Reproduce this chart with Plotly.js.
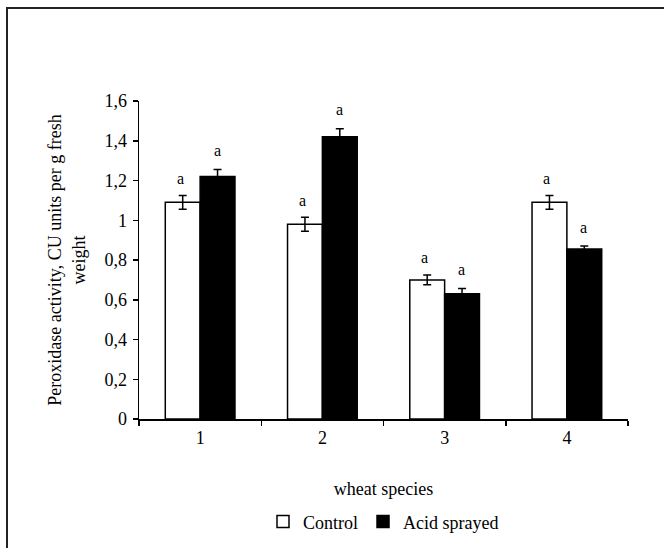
<!DOCTYPE html>
<html>
<head>
<meta charset="utf-8">
<script src="https://cdn.plot.ly/plotly-3.0.1.min.js"></script>
<style>
  html, body { margin: 0; padding: 0; background: #fff; }
  #frame { position: absolute; left: 6px; top: 7px; width: 700px; height: 600px; border: 2px solid #222; box-sizing: border-box; pointer-events: none; z-index: 2; }
  #chart { position: absolute; left: 0; top: 0; width: 664px; height: 548px; }
</style>
</head>
<body>
<div id="chart"></div>
<div id="frame"></div>
<script>
const categories = ['1', '2', '3', '4'];
const controlValues = [1.09, 0.98, 0.70, 1.09];
const controlErrors = [0.035, 0.035, 0.025, 0.035];
const acidValues = [1.22, 1.42, 0.63, 0.855];
const acidErrors = [0.035, 0.04, 0.027, 0.015];
const controlLabels = ['a', 'a', 'a', 'a'];
const acidLabels = ['a', 'a', 'a', 'a'];

const fontFamily = 'Liberation Serif';

const traces = [
  {
    type: 'bar', name: 'Control', x: categories, y: controlValues,
    marker: { color: '#ffffff', line: { color: '#000000', width: 1.5 } },
    error_y: { type: 'data', array: controlErrors, visible: true, color: '#000000', thickness: 1.5, width: 4 }
  },
  {
    type: 'bar', name: 'Acid sprayed', x: categories, y: acidValues,
    marker: { color: '#000000', line: { color: '#000000', width: 1.5 } },
    error_y: { type: 'data', array: acidErrors, visible: true, color: '#000000', thickness: 1.5, width: 4 }
  }
];

const annotations = [];
categories.forEach((c, i) => {
  annotations.push({ x: i, y: controlValues[i] + controlErrors[i], xref: 'x', yref: 'y', text: controlLabels[i],
    showarrow: false, xshift: -20, yshift: 17, font: { family: fontFamily, size: 16, color: '#000' } });
  annotations.push({ x: i, y: acidValues[i] + acidErrors[i], xref: 'x', yref: 'y', text: acidLabels[i],
    showarrow: false, xshift: 17, yshift: 19, font: { family: fontFamily, size: 16, color: '#000' } });
});

const layout = {
  width: 664, height: 548,
  margin: { l: 139, r: 36, t: 101, b: 129, pad: 0, autoexpand: false },
  paper_bgcolor: '#ffffff', plot_bgcolor: '#ffffff',
  separators: ', ',
  font: { family: fontFamily, size: 18, color: '#000' },
  barmode: 'group', bargap: 0.43, bargroupgap: 0,
  showlegend: true,
  legend: { orientation: 'h', x: 0.5, xanchor: 'center', y: -0.265, yanchor: 'top',
    font: { family: fontFamily, size: 18, color: '#000' }, itemwidth: 30, tracegroupgap: 0 },
  xaxis: {
    type: 'category', range: [-0.5, 3.5], showgrid: false, zeroline: false, automargin: false,
    showline: true, linecolor: '#000', linewidth: 1.5,
    ticks: 'outside', tickson: 'boundaries', ticklen: 5, tickcolor: '#000', tickwidth: 1.5,
    ticklabelstandoff: 2,
    tickfont: { family: fontFamily, size: 18, color: '#000' },
    title: { text: 'wheat species', font: { family: fontFamily, size: 18, color: '#000' }, standoff: 35 }
  },
  yaxis: {
    range: [0, 1.6], dtick: 0.2, showgrid: false, zeroline: false, automargin: false,
    showline: true, linecolor: '#000', linewidth: 1.5,
    ticks: 'outside', ticklen: 5, tickcolor: '#000', tickwidth: 1.5,
    ticklabelstandoff: 2,
    tickfont: { family: fontFamily, size: 18, color: '#000' },
    title: { text: 'Peroxidase activity, CU units per g fresh<br>weight', font: { family: fontFamily, size: 18, color: '#000' }, standoff: 14 }
  },
  annotations: annotations
};

Plotly.newPlot('chart', traces, layout, { displayModeBar: false, staticPlot: true });
</script>
</body>
</html>
